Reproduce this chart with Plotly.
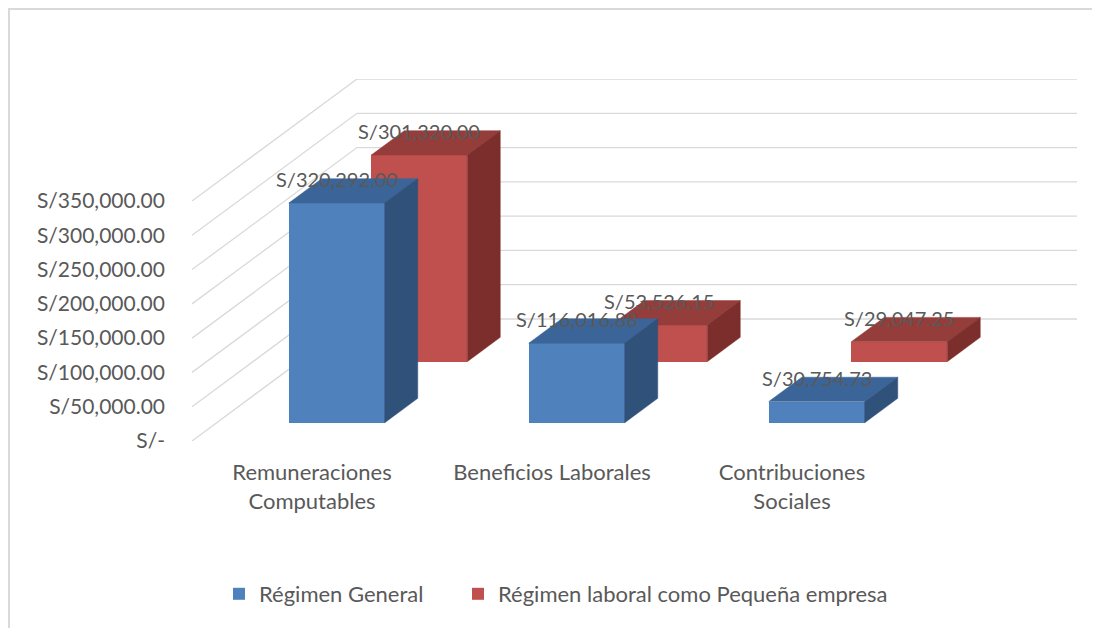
import plotly.graph_objects as go

# ---- data ----
categories = ["Remuneraciones<br>Computables", "Beneficios Laborales", "Contribuciones<br>Sociales"]
series_names = ["Régimen General", "Régimen laboral como Pequeña empresa"]
regimen_general = [320292.00, 116016.88, 30754.73]
pequena_empresa = [301320.00, 53526.15, 29047.25]
tick_values = [0, 50000, 100000, 150000, 200000, 250000, 300000, 350000]
tick_labels = ["S/-", "S/50,000.00", "S/100,000.00", "S/150,000.00", "S/200,000.00",
               "S/250,000.00", "S/300,000.00", "S/350,000.00"]

series_values = [regimen_general, pequena_empresa]
front_colors = ["#4F81BD", "#C0504D"]
top_colors = ["#3B6598", "#943D3A"]
side_colors = ["#30527A", "#7B2E2C"]
legend_ids = ["legend", "legend2"]

# oblique projection parameters (depth expressed in axis units)
DX = 0.6875          # horizontal shift of full depth, in category units
DY = 177917          # vertical shift of full depth, in value units
BAR_HALF = 0.2       # half bar width in category units
BAR_DEPTH = 0.2      # bar depth as fraction of full depth
ymax_tick = tick_values[-1]

FONT = "Lato"
TXT = "#595959"

fig = go.Figure()

# gridlines (left wall + back wall) as background shapes
shapes = []
for v in tick_values:
    x0, x1 = -0.5, -0.5 + DX
    x2 = len(categories) - 0.5 + DX
    shapes.append(dict(type="path", xref="x", yref="y", layer="below",
                       path=f"M{x0},{v} L{x1},{v + DY} L{x2},{v + DY}",
                       line=dict(color="#d9d9d9", width=1.3)))

annotations = []
# draw back series first, then front
for s in [1, 0]:
    vals = series_values[s]
    d0 = 0.15 + 0.5 * s
    d1 = d0 + BAR_DEPTH
    xs_front = [i + d0 * DX for i in range(len(categories))]
    base = d0 * DY
    fig.add_trace(go.Bar(x=xs_front, y=vals, base=[base] * len(vals), width=2 * BAR_HALF,
                         marker=dict(color=front_colors[s], line=dict(width=0)),
                         name=series_names[s], legend=legend_ids[s], hoverinfo="skip"))
    ddx = (d1 - d0) * DX
    ddy = (d1 - d0) * DY
    for i, v in enumerate(vals):
        xl = xs_front[i] - BAR_HALF
        xr = xs_front[i] + BAR_HALF
        yb = base
        yt = base + v
        # top face
        fig.add_trace(go.Scatter(x=[xl, xr, xr + ddx, xl + ddx, xl],
                                 y=[yt, yt, yt + ddy, yt + ddy, yt],
                                 fill="toself", fillcolor=top_colors[s], mode="lines",
                                 line=dict(width=0.5, color=top_colors[s]),
                                 showlegend=False, hoverinfo="skip"))
        # side face
        fig.add_trace(go.Scatter(x=[xr, xr + ddx, xr + ddx, xr, xr],
                                 y=[yb, yb + ddy, yt + ddy, yt, yb],
                                 fill="toself", fillcolor=side_colors[s], mode="lines",
                                 line=dict(width=0.5, color=side_colors[s]),
                                 showlegend=False, hoverinfo="skip"))
        annotations.append(dict(x=xs_front[i], y=yt, xref="x", yref="y",
                                text=f"S/{v:,.2f}", showarrow=False,
                                yanchor="middle", yshift=24,
                                font=dict(family=FONT, size=20, color=TXT)))

# figure is placed 8px into the page (body margin), so size it to fit the window
W, H = 1092, 620
L, R, T, B = 184, 23, 71, 187
pw, ph = W - L - R, H - T - B
def px(x): return (x - L) / pw
def py(y): return (H - B - y) / ph
# chart border (top and left edge visible)
shapes.append(dict(type="line", xref="paper", yref="paper",
                   x0=px(0), x1=px(W), y0=py(1), y1=py(1),
                   line=dict(color="#d9d9d9", width=2)))
shapes.append(dict(type="line", xref="paper", yref="paper",
                   x0=px(1), x1=px(1), y0=py(0), y1=py(H),
                   line=dict(color="#d9d9d9", width=2)))

legend_style = dict(orientation="h", xref="container", yref="container",
                    y=1 - 586 / H, xanchor="left", yanchor="middle",
                    font=dict(family=FONT, size=22, color=TXT),
                    itemwidth=30, bgcolor="rgba(0,0,0,0)")

fig.update_layout(
    width=W, height=H,
    margin=dict(l=L, r=R, t=T, b=B),
    paper_bgcolor="white", plot_bgcolor="white",
    barmode="overlay", bargap=0,
    shapes=shapes, annotations=annotations,
    font=dict(family=FONT, size=21, color=TXT),
    showlegend=True,
    legend=dict(x=211 / W, **legend_style),
    legend2=dict(x=450 / W, **legend_style),
    xaxis=dict(range=[-0.5, len(categories) - 0.5 + DX], showgrid=False, zeroline=False,
               showline=False, tickmode="array", tickvals=list(range(len(categories))),
               ticktext=categories, ticks="", ticklabelstandoff=16,
               tickfont=dict(family=FONT, size=22, color=TXT), fixedrange=True),
    yaxis=dict(range=[0, ymax_tick + DY], showgrid=False, zeroline=False, showline=False,
               tickmode="array", tickvals=tick_values, ticktext=tick_labels, ticks="",
               ticklabelstandoff=26, tickfont=dict(family=FONT, size=21, color=TXT),
               fixedrange=True),
)

fig.write_html("out.html")
